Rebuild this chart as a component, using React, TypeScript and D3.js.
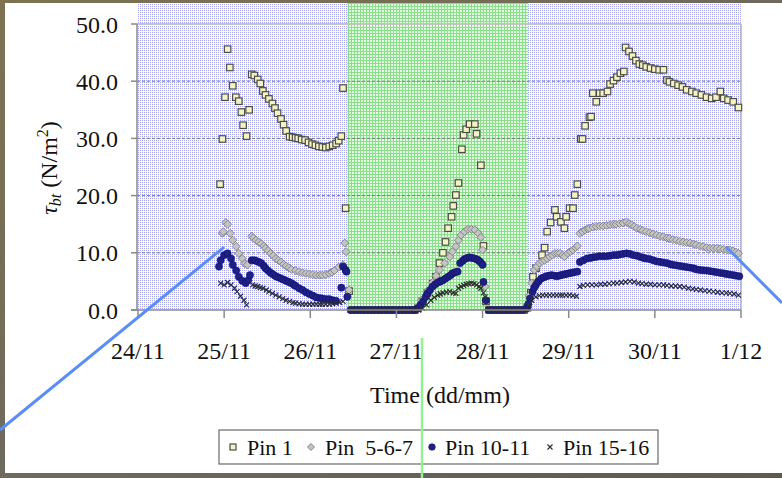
import React from "react";
import * as d3 from "d3";

// ---- data (time in days since 24/11 00:00, value in N/m^2) ----
const xTickLabels = ["24/11", "25/11", "26/11", "27/11", "28/11", "29/11", "30/11", "1/12"];
const yTicks = [0, 10, 20, 30, 40, 50];
const legendLabels = ["Pin 1", "Pin  5-6-7", "Pin 10-11", "Pin 15-16"];
const shadedPeriod = [2.43, 4.53];

const pin1: [number, number][] = [
  [0.953, 22.0], [0.98, 29.9], [1.01, 37.2], [1.04, 45.6], [1.066, 42.4], [1.1, 39.2], [1.136, 37.2],
  [1.17, 36.5], [1.2, 34.6], [1.22, 32.3], [1.26, 30.4], [1.29, 35.0], [1.32, 41.2], [1.35, 41.0],
  [1.39, 40.3], [1.42, 39.6], [1.45, 38.3], [1.48, 37.6], [1.52, 36.9], [1.56, 36.1], [1.59, 35.3],
  [1.62, 34.4], [1.66, 33.4], [1.69, 32.4], [1.72, 31.3], [1.76, 30.3], [1.795, 30.2], [1.83, 30.1],
  [1.86, 30.0], [1.9, 29.8], [1.94, 29.7], [1.98, 29.3], [2.02, 29.0], [2.06, 28.8], [2.1, 28.6],
  [2.14, 28.5], [2.18, 28.4], [2.22, 28.6], [2.26, 28.8], [2.3, 29.1], [2.33, 29.6], [2.36, 30.4],
  [2.38, 38.8], [2.41, 17.8], [2.45, 3.3],
  [2.49, 0], [2.53, 0], [2.57, 0], [2.61, 0], [2.65, 0], [2.69, 0], [2.73, 0], [2.77, 0], [2.81, 0],
  [2.85, 0], [2.89, 0], [2.93, 0], [2.97, 0], [3.01, 0], [3.05, 0], [3.09, 0], [3.13, 0], [3.17, 0],
  [3.21, 0], [3.25, 0.3], [3.3, 1.5], [3.36, 3.0], [3.42, 4.6], [3.46, 5.8], [3.5, 8.2], [3.54, 10.0],
  [3.57, 11.9], [3.6, 14.3], [3.64, 16.3], [3.66, 18.2], [3.69, 20.1], [3.72, 22.2], [3.76, 28.1],
  [3.78, 30.6], [3.81, 31.6], [3.85, 32.5], [3.91, 32.5], [3.93, 30.8], [3.98, 25.3], [4.01, 11.2],
  [4.04, 1.5], [4.08, 0], [4.12, 0], [4.16, 0], [4.2, 0], [4.24, 0], [4.28, 0], [4.32, 0], [4.36, 0],
  [4.4, 0], [4.44, 0], [4.48, 0], [4.52, 0.4], [4.56, 3.0],
  [4.585, 5.8], [4.62, 7.3], [4.69, 9.6], [4.72, 10.9], [4.75, 13.7], [4.79, 15.3], [4.84, 17.5],
  [4.86, 16.3], [4.91, 15.4], [4.95, 14.3], [4.97, 16.3], [5.01, 17.8], [5.05, 17.8], [5.07, 20.1],
  [5.1, 22.0], [5.14, 29.9], [5.16, 29.9], [5.19, 32.2], [5.24, 33.7], [5.26, 33.8], [5.28, 37.9],
  [5.32, 36.4], [5.36, 37.9], [5.4, 37.9], [5.45, 38.2], [5.48, 39.5], [5.52, 40.1], [5.56, 40.7],
  [5.6, 41.4], [5.64, 41.7], [5.66, 45.9], [5.7, 45.2], [5.74, 44.4], [5.78, 43.6], [5.82, 43.0],
  [5.86, 42.8], [5.9, 42.5], [5.95, 42.3], [6.0, 42.1], [6.05, 42.0], [6.1, 42.0], [6.14, 40.2],
  [6.17, 39.9], [6.22, 39.6], [6.27, 39.3], [6.32, 39.0], [6.37, 38.5], [6.43, 38.2], [6.48, 37.9],
  [6.54, 37.6], [6.6, 37.2], [6.66, 37.0], [6.71, 37.2], [6.76, 38.2], [6.8, 37.0], [6.85, 36.7],
  [6.91, 36.4], [6.97, 35.4],
];

const pin567: [number, number][] = [
  [0.98, 13.4], [0.99, 13.7], [1.02, 15.3], [1.04, 15.0], [1.07, 13.4], [1.1, 12.2], [1.14, 11.1],
  [1.17, 9.9], [1.21, 9.0], [1.24, 8.1], [1.27, 7.9], [1.32, 12.9], [1.34, 12.6], [1.37, 12.2],
  [1.4, 11.9], [1.43, 11.6], [1.46, 11.2], [1.48, 10.8], [1.51, 10.4], [1.54, 9.9], [1.57, 9.5],
  [1.6, 9.0], [1.63, 8.7], [1.66, 8.4], [1.69, 8.0], [1.72, 7.7], [1.75, 7.4], [1.78, 7.1],
  [1.83, 6.9], [1.87, 6.7], [1.91, 6.5], [1.95, 6.4], [1.99, 6.3], [2.03, 6.2], [2.07, 6.1],
  [2.11, 6.1], [2.14, 6.1], [2.18, 6.2], [2.22, 6.4], [2.25, 6.6], [2.28, 6.9], [2.33, 7.5],
  [2.38, 7.9], [2.4, 11.7], [2.415, 10.2], [2.45, 3.5],
  [2.49, 0], [2.53, 0], [2.57, 0], [2.61, 0], [2.65, 0], [2.69, 0], [2.73, 0], [2.77, 0], [2.81, 0],
  [2.85, 0], [2.89, 0], [2.93, 0], [2.97, 0], [3.01, 0], [3.05, 0], [3.09, 0], [3.13, 0], [3.17, 0],
  [3.21, 0], [3.25, 0.5], [3.29, 1.7], [3.35, 3.2], [3.42, 4.8], [3.46, 6.0], [3.5, 7.0], [3.56, 8.2],
  [3.62, 9.3], [3.65, 10.2], [3.69, 11.1], [3.72, 12.2], [3.75, 13.1], [3.79, 13.7], [3.83, 14.1],
  [3.87, 14.1], [3.91, 14.0], [3.95, 13.4], [3.98, 12.7], [4.0, 10.5], [4.03, 4.1],
  [4.07, 0], [4.11, 0], [4.15, 0], [4.19, 0], [4.23, 0], [4.27, 0], [4.31, 0], [4.35, 0], [4.39, 0],
  [4.43, 0], [4.47, 0], [4.51, 0.5], [4.54, 2.5],
  [4.57, 4.7], [4.6, 7.0], [4.63, 7.6], [4.66, 8.2], [4.69, 8.5], [4.72, 8.7], [4.75, 9.0],
  [4.78, 9.3], [4.81, 9.6], [4.84, 9.9], [4.87, 9.9], [4.9, 9.9], [4.93, 9.6], [4.95, 9.3],
  [4.99, 9.9], [5.02, 10.2], [5.05, 10.5], [5.08, 10.9], [5.1, 11.2], [5.13, 13.4], [5.16, 13.7],
  [5.19, 14.0], [5.22, 14.2], [5.24, 14.3], [5.28, 14.5], [5.32, 14.6], [5.36, 14.7], [5.4, 14.7],
  [5.44, 14.8], [5.48, 14.9], [5.52, 15.0], [5.55, 15.0], [5.59, 15.1], [5.63, 15.2], [5.67, 15.4],
  [5.7, 15.1], [5.73, 14.9], [5.76, 14.6], [5.79, 14.3], [5.83, 14.1], [5.86, 13.9], [5.9, 13.7],
  [5.94, 13.5], [5.98, 13.3], [6.02, 13.1], [6.06, 12.9], [6.1, 12.8], [6.14, 12.6], [6.17, 12.5],
  [6.21, 12.3], [6.25, 12.2], [6.29, 12.0], [6.33, 11.9], [6.37, 11.8], [6.41, 11.7], [6.45, 11.5],
  [6.48, 11.4], [6.52, 11.2], [6.56, 11.1], [6.6, 10.9], [6.64, 10.8], [6.68, 10.8], [6.72, 10.8],
  [6.76, 10.7], [6.8, 10.6], [6.84, 10.5], [6.87, 10.5], [6.91, 10.3], [6.94, 10.1], [6.97, 9.9],
];

const pin1011: [number, number][] = [
  [0.94, 7.6], [0.96, 8.7], [1.0, 9.6], [1.04, 9.9], [1.08, 9.0], [1.1, 7.9], [1.14, 6.9],
  [1.17, 5.8], [1.21, 5.1], [1.25, 4.7], [1.28, 5.2], [1.3, 6.1], [1.32, 8.7], [1.35, 8.7],
  [1.37, 8.6], [1.4, 8.4], [1.43, 8.2], [1.46, 7.7], [1.48, 7.3], [1.51, 6.9], [1.54, 6.5],
  [1.57, 6.2], [1.6, 5.9], [1.63, 5.7], [1.66, 5.5], [1.69, 5.3], [1.72, 5.1], [1.75, 4.9],
  [1.78, 4.7], [1.81, 4.4], [1.83, 4.2], [1.87, 3.8], [1.91, 3.5], [1.95, 3.1], [1.99, 2.8],
  [2.03, 2.5], [2.07, 2.2], [2.11, 2.1], [2.14, 2.0], [2.18, 1.9], [2.22, 1.9], [2.26, 1.7],
  [2.3, 1.6], [2.36, 3.9], [2.38, 7.6], [2.41, 7.0], [2.42, 6.7], [2.43, 2.3],
  [2.47, 0], [2.51, 0], [2.55, 0], [2.59, 0], [2.63, 0], [2.67, 0], [2.71, 0], [2.75, 0], [2.79, 0],
  [2.83, 0], [2.87, 0], [2.91, 0], [2.95, 0], [2.99, 0], [3.03, 0], [3.07, 0], [3.11, 0], [3.15, 0],
  [3.19, 0], [3.22, 0], [3.25, 0.3], [3.28, 0.9], [3.31, 1.5], [3.34, 2.3], [3.36, 2.9], [3.39, 3.5],
  [3.42, 4.1], [3.45, 4.5], [3.48, 4.8], [3.51, 5.0], [3.54, 5.2], [3.57, 5.5], [3.6, 5.8],
  [3.63, 6.1], [3.65, 6.4], [3.68, 6.6], [3.71, 6.7], [3.74, 8.2], [3.77, 8.6], [3.79, 8.9],
  [3.82, 9.1], [3.85, 9.2], [3.88, 9.1], [3.91, 9.0], [3.94, 8.8], [3.96, 8.6], [3.98, 8.3],
  [4.0, 7.9], [4.01, 4.9], [4.04, 1.7],
  [4.07, 0], [4.11, 0], [4.15, 0], [4.19, 0], [4.23, 0], [4.27, 0], [4.31, 0], [4.35, 0], [4.39, 0],
  [4.43, 0], [4.47, 0], [4.51, 0.3], [4.53, 1.0],
  [4.55, 2.0], [4.58, 3.2], [4.6, 3.9], [4.62, 4.4], [4.65, 5.0], [4.68, 5.5], [4.71, 5.7],
  [4.74, 5.9], [4.77, 6.0], [4.8, 6.1], [4.83, 6.0], [4.86, 5.9], [4.89, 6.0], [4.91, 6.1],
  [4.94, 6.2], [4.97, 6.3], [5.0, 6.4], [5.03, 6.5], [5.06, 6.6], [5.1, 6.7], [5.13, 8.4],
  [5.17, 8.7], [5.21, 9.0], [5.25, 9.1], [5.28, 9.2], [5.32, 9.3], [5.36, 9.4], [5.4, 9.4],
  [5.44, 9.4], [5.48, 9.5], [5.52, 9.6], [5.56, 9.6], [5.59, 9.7], [5.63, 9.8], [5.67, 9.9],
  [5.71, 9.8], [5.75, 9.6], [5.79, 9.5], [5.83, 9.3], [5.87, 9.1], [5.9, 9.0], [5.94, 8.9],
  [5.98, 8.7], [6.02, 8.5], [6.06, 8.4], [6.1, 8.3], [6.14, 8.2], [6.18, 8.0], [6.21, 7.9],
  [6.25, 7.8], [6.29, 7.7], [6.33, 7.6], [6.37, 7.5], [6.41, 7.4], [6.45, 7.3], [6.48, 7.1],
  [6.52, 7.0], [6.56, 6.95], [6.6, 6.9], [6.64, 6.8], [6.68, 6.7], [6.72, 6.6], [6.76, 6.5],
  [6.8, 6.4], [6.83, 6.3], [6.87, 6.2], [6.91, 6.1], [6.94, 6.0], [6.98, 5.9],
];

const pin1516: [number, number][] = [
  [0.96, 4.7], [1.0, 4.4], [1.04, 4.8], [1.08, 4.4], [1.12, 3.8], [1.15, 3.2], [1.19, 2.4],
  [1.23, 1.7], [1.26, 0.9], [1.33, 4.4], [1.36, 4.2], [1.39, 4.1], [1.42, 3.9], [1.45, 3.8],
  [1.49, 3.5], [1.52, 3.2], [1.56, 2.9], [1.6, 2.6], [1.64, 2.3], [1.68, 2.0], [1.72, 1.7],
  [1.76, 1.5], [1.8, 1.3], [1.83, 1.2], [1.87, 1.1], [1.91, 1.0], [1.95, 1.0], [1.99, 1.0],
  [2.03, 1.0], [2.07, 1.0], [2.11, 1.0], [2.14, 1.0], [2.18, 1.0], [2.22, 1.0], [2.26, 1.1],
  [2.3, 1.2], [2.34, 1.3], [2.38, 1.5],
  [2.46, 0], [2.5, 0], [2.54, 0], [2.58, 0], [2.62, 0], [2.66, 0], [2.7, 0], [2.74, 0], [2.78, 0],
  [2.82, 0], [2.86, 0], [2.9, 0], [2.94, 0], [2.98, 0], [3.02, 0], [3.06, 0], [3.1, 0], [3.14, 0],
  [3.18, 0], [3.22, 0], [3.26, 0], [3.3, 0.3], [3.35, 0.9], [3.4, 1.7], [3.44, 2.2], [3.48, 2.6],
  [3.51, 2.8], [3.54, 3.0], [3.58, 3.1], [3.62, 3.2], [3.66, 3.0], [3.69, 2.9], [3.72, 3.8],
  [3.75, 4.1], [3.78, 4.3], [3.81, 4.5], [3.84, 4.6], [3.87, 4.7], [3.9, 4.6], [3.93, 4.4],
  [3.96, 4.1], [3.98, 3.8], [4.01, 3.0], [4.03, 2.3],
  [4.06, 0], [4.1, 0], [4.14, 0], [4.18, 0], [4.22, 0], [4.26, 0], [4.3, 0], [4.34, 0], [4.38, 0],
  [4.42, 0], [4.46, 0], [4.5, 0], [4.54, 0.8],
  [4.57, 1.7], [4.62, 2.3], [4.66, 2.5], [4.7, 2.6], [4.74, 2.6], [4.78, 2.6], [4.82, 2.6],
  [4.86, 2.6], [4.9, 2.6], [4.93, 2.6], [4.97, 2.6], [5.01, 2.6], [5.05, 2.5], [5.09, 2.4],
  [5.13, 4.1], [5.17, 4.3], [5.22, 4.4], [5.27, 4.4], [5.32, 4.4], [5.37, 4.5], [5.42, 4.5],
  [5.47, 4.6], [5.52, 4.7], [5.56, 4.7], [5.61, 4.8], [5.66, 4.9], [5.71, 5.0], [5.76, 4.9],
  [5.81, 4.7], [5.85, 4.6], [5.9, 4.5], [5.95, 4.5], [6.0, 4.4], [6.05, 4.4], [6.1, 4.4],
  [6.14, 4.3], [6.19, 4.2], [6.24, 4.2], [6.29, 4.1], [6.34, 4.0], [6.39, 3.8], [6.44, 3.7],
  [6.48, 3.6], [6.53, 3.5], [6.58, 3.4], [6.63, 3.3], [6.68, 3.2], [6.73, 3.1], [6.78, 3.0],
  [6.83, 3.0], [6.87, 2.9], [6.92, 2.8], [6.97, 2.6],
];

// annotation pointers (from the slide), anchored to data coordinates
const pointerLeft = { d: 1.0, v: 11.0 };
const pointerRight = { d: 6.83, v: 11.0 };

const W = 782;
const H = 478;
const FONT = "'Liberation Serif', 'Times New Roman', serif";

const x = d3.scaleLinear().domain([0, 7]).range([138, 741]);
const y = d3.scaleLinear().domain([0, 50]).range([310, 24]);

function Square({ cx, cy, s }: { cx: number; cy: number; s: number }) {
  return (
    <rect x={cx - s / 2} y={cy - s / 2} width={s} height={s} fill="#f3f3c6" stroke="#4d4d45" strokeWidth={1.2} />
  );
}
function Diamond({ cx, cy, s }: { cx: number; cy: number; s: number }) {
  const h = s / 2;
  return (
    <path
      d={`M${cx},${cy - h}L${cx + h},${cy}L${cx},${cy + h}L${cx - h},${cy}Z`}
      fill="#c4c4c4"
      stroke="#858585"
      strokeWidth={1}
    />
  );
}
function Dot({ cx, cy, r }: { cx: number; cy: number; r: number }) {
  return <circle cx={cx} cy={cy} r={r} fill="#1f1f8a" stroke="#101060" strokeWidth={0.6} />;
}
function XMark({ cx, cy, s }: { cx: number; cy: number; s: number }) {
  const h = s / 2;
  return (
    <path
      d={`M${cx - h},${cy - h}L${cx + h},${cy + h}M${cx - h},${cy + h}L${cx + h},${cy - h}`}
      stroke="#2e2e2e"
      strokeWidth={1.2}
      fill="none"
    />
  );
}

export default function App() {
  const plotL = x(0) - 1;
  const plotR = x(7);
  const plotT = 3;
  const plotB = y(0);
  const legendX = [233, 311, 432, 550];
  const legendTextX = [247, 325, 445, 563];
  const legendY = 447;

  return (
    <svg
      width={W}
      height={H}
      viewBox={`0 0 ${W} ${H}`}
      style={{ position: "absolute", left: 0, top: 0, display: "block" }}
      fontFamily={FONT}
    >
      <defs>
        <pattern id="bluedots" width="2" height="2" patternUnits="userSpaceOnUse">
          <rect width="2" height="2" fill="#ffffff" />
          <rect width="1" height="1" fill="#a4a4f0" />
        </pattern>
        <pattern id="greengrid" width="3" height="3" patternUnits="userSpaceOnUse">
          <rect width="3" height="3" fill="#e4fee4" />
          <rect width="3" height="1" fill="#8ae08a" />
          <rect width="1" height="3" fill="#8ae08a" />
        </pattern>
        <linearGradient id="bgGrad" x1="0" y1="0" x2="1" y2="1">
          <stop offset="0" stopColor="#7d7352" />
          <stop offset="0.5" stopColor="#6e6a5c" />
          <stop offset="1" stopColor="#5e5a4e" />
        </linearGradient>
      </defs>

      {/* slide background */}
      <rect x={0} y={0} width={W} height={H} fill="url(#bgGrad)" />
      <rect x={5} y={3} width={W - 5} height={470} fill="#ffffff" />

      {/* plot area */}
      <rect x={plotL} y={plotT} width={plotR - plotL} height={plotB - plotT} fill="url(#bluedots)" />
      <rect
        x={x(shadedPeriod[0])}
        y={plotT}
        width={x(shadedPeriod[1]) - x(shadedPeriod[0])}
        height={plotB - plotT}
        fill="url(#greengrid)"
      />

      {/* gridlines */}
      {yTicks.filter((t) => t > 0).map((t) => (
        <line
          key={`g${t}`}
          x1={plotL}
          x2={plotR}
          y1={y(t)}
          y2={y(t)}
          stroke={t === 50 ? "#c4c4c4" : "#7a7a7a"}
          strokeWidth={t === 50 ? 2 : 1}
          strokeDasharray={t === 50 ? undefined : "3,2"}
        />
      ))}
      <line x1={plotR} x2={plotR} y1={y(50)} y2={plotB} stroke="#b0b0b0" strokeWidth={1.5} />

      {/* series */}
      <g>
        {pin1.map(([d, v], i) => (
          <Square key={`a${i}`} cx={x(d)} cy={y(v)} s={6.5} />
        ))}
      </g>
      <g>
        {pin567.map(([d, v], i) => (
          <Diamond key={`b${i}`} cx={x(d)} cy={y(v)} s={8} />
        ))}
      </g>
      <g>
        {pin1011.map(([d, v], i) => (
          <Dot key={`c${i}`} cx={x(d)} cy={y(v)} r={3.6} />
        ))}
      </g>
      <g>
        {pin1516.map(([d, v], i) => (
          <XMark key={`e${i}`} cx={x(d)} cy={y(v)} s={5} />
        ))}
      </g>

      {/* axes */}
      <line x1={plotL} x2={plotL} y1={y(50)} y2={plotB} stroke="#8a8a8a" strokeWidth={1.5} />
      <line x1={plotL - 6} x2={plotR} y1={plotB} y2={plotB} stroke="#8a8a8a" strokeWidth={1.5} />
      {yTicks.map((t) => (
        <g key={`y${t}`}>
          <line x1={plotL - 6} x2={plotL} y1={y(t)} y2={y(t)} stroke="#8a8a8a" strokeWidth={1.5} />
          <text x={118} y={y(t) + 8.5} textAnchor="end" fontSize={24} fill="#111">
            {d3.format(".1f")(t)}
          </text>
        </g>
      ))}
      {xTickLabels.map((lab, i) => (
        <g key={`x${i}`}>
          <line x1={x(i)} x2={x(i)} y1={plotB} y2={plotB + 8} stroke="#8a8a8a" strokeWidth={1.5} />
          <text x={x(i)} y={359} textAnchor="middle" fontSize={24} fill="#111">
            {lab}
          </text>
        </g>
      ))}

      {/* axis titles */}
      <text x={440} y={403} textAnchor="middle" fontSize={24} fill="#111">
        Time (dd/mm)
      </text>
      <text transform="translate(57,168) rotate(-90)" textAnchor="middle" fontSize={24} fill="#111">
        <tspan fontStyle="italic">τ</tspan>
        <tspan fontStyle="italic" fontSize={16} dy={4}>bt</tspan>
        <tspan dy={-4}> (N/m</tspan>
        <tspan fontSize={16} dy={-9}>2</tspan>
        <tspan dy={9}>)</tspan>
      </text>

      {/* legend */}
      <rect x={219} y={430} width={439} height={34} fill="#ffffff" stroke="#6a6a6a" strokeWidth={1.2} />
      <Square cx={legendX[0]} cy={legendY} s={6} />
      <Diamond cx={legendX[1]} cy={legendY} s={7} />
      <Dot cx={legendX[2]} cy={legendY} r={3.3} />
      <XMark cx={legendX[3]} cy={legendY} s={5} />
      {legendLabels.map((lab, i) => (
        <text
          key={`l${i}`}
          x={legendTextX[i]}
          y={legendY + 8}
          fontSize={22}
          fill="#111"
          style={{ whiteSpace: "pre" }}
        >
          {lab}
        </text>
      ))}

      {/* slide overlay lines */}
      <line x1={0} y1={430} x2={x(pointerLeft.d)} y2={y(pointerLeft.v)} stroke="#5b8ef5" strokeWidth={3} />
      <line x1={x(pointerRight.d)} y1={y(pointerRight.v)} x2={W} y2={303} stroke="#5b8ef5" strokeWidth={3} />
      <line x1={422} y1={338} x2={422} y2={H} stroke="#93f093" strokeWidth={2.5} />
    </svg>
  );
}
